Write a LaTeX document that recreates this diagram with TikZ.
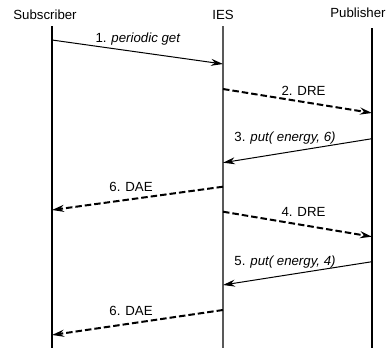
\documentclass[tikz,border=0pt]{standalone}
\usepackage{fontspec}
\setmainfont{Liberation Sans}
\usetikzlibrary{arrows.meta}
\tikzset{>={Stealth[length=12bp,width=7bp]}}

\begin{document}
\begin{tikzpicture}[x=1bp, y=-1bp, font=\fontsize{13.3}{16}\selectfont,
        life/.style={line width=1.1bp},
        msg/.style={->, line width=1bp},
        dmsg/.style={->, line width=2bp, dash pattern=on 6.5bp off 3bp},
        lbl/.style={anchor=base, inner sep=0pt}]
        \useasboundingbox (0,0) rectangle (390,348);

        % lifelines
        \node[lbl] (sub) at (45,19.3) {Subscriber};
        \node[lbl] (ies) at (223,19.3) {IES};
        \node[lbl] (pub) at (358,17.5) {Publisher};
        \coordinate (S0) at (52,26);
        \coordinate (S9) at (52,348);
        \coordinate (I0) at (223,26);
        \coordinate (I9) at (223,348);
        \coordinate (P0) at (372,28);
        \coordinate (P9) at (372,348);
        \draw[life] (S0)--(S9);
        \draw[life, line width=1.6bp, black!65] (I0)--(I9);
        \draw[life] (P0)--(P9);

        % messages
        \coordinate (S1) at (52,40);    \coordinate (I1) at (223,64);
        \coordinate (I2) at (223,89);   \coordinate (P2) at (372,113);
        \coordinate (P3) at (372,138.7); \coordinate (I3) at (223,162.7);
        \coordinate (I4) at (223,186.7); \coordinate (S4) at (52,210);
        \coordinate (I5) at (223,211.7); \coordinate (P5) at (372,236.7);
        \coordinate (P6) at (372,261.7); \coordinate (I6) at (223,285);
        \coordinate (I7) at (223,310);  \coordinate (S7) at (52,335);

        \draw[msg] (S1)--(I1);
        \draw[dmsg] (I2)--(P2);
        \draw[msg] (P3)--(I3);
        \draw[dmsg] (I4)--(S4);
        \draw[dmsg] (I5)--(P5);
        \draw[msg] (P6)--(I6);
        \draw[dmsg] (I7)--(S7);

        \node[lbl] (m1) at (138,42.7) {1. \textit{periodic get}};
        \node[lbl] (m2) at (303.5,95) {2. DRE};
        \node[lbl] (m3) at (285,141.7) {3. \textit{put( energy, 6)}};
        \node[lbl] (m4) at (131,191.7) {6. DAE};
        \node[lbl] (m5) at (303.5,216.7) {4. DRE};
        \node[lbl] (m6) at (285,265) {5. \textit{put( energy, 4)}};
        \node[lbl] (m7) at (131,315.7) {6. DAE};
\end{tikzpicture}
\end{document}
